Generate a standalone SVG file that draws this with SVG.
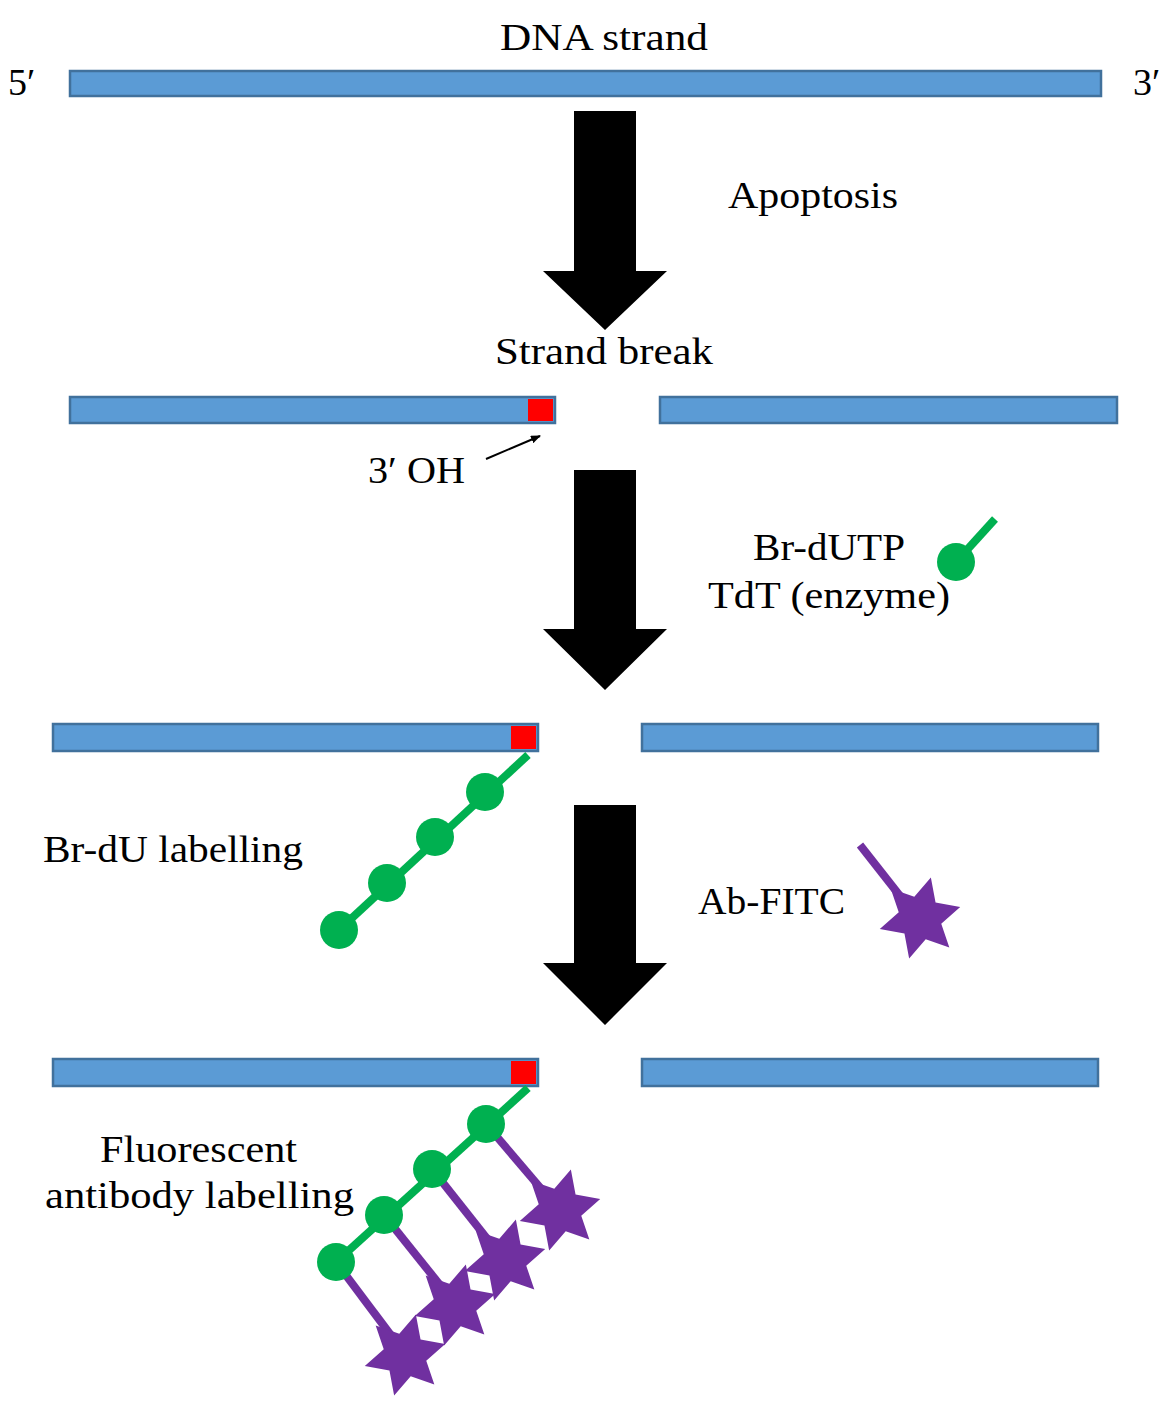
<svg xmlns="http://www.w3.org/2000/svg" xmlns:xlink="http://www.w3.org/1999/xlink" width="1171" height="1411" viewBox="0 0 1171 1411">
<style>
.bar{fill:#5b9bd5;stroke:#41719c;stroke-width:2.5}
.red{fill:#ff0000}
.t{font-family:"Liberation Serif",serif;font-size:38px;fill:#000}
.g{stroke:#00b050;stroke-width:8;fill:none}
.gc{fill:#00b050}
.p{stroke:#7030a0;stroke-width:8;fill:none}
.big{fill:#000}
</style>
<defs>
<path id="star" d="M0,-42 L11,-19 L36,-21 L22,0 L36,21 L11,19 L0,42 L-11,19 L-36,21 L-22,0 L-36,-21 L-11,-19 Z" fill="#7030a0"/>
<marker id="ah" markerWidth="10" markerHeight="8" refX="9" refY="4" orient="auto" markerUnits="userSpaceOnUse"><path d="M0,0 L10,4 L0,8 Z" fill="#000"/></marker>
</defs>
<g id="texts">
<text class="t" x="500" y="50" textLength="208" lengthAdjust="spacingAndGlyphs">DNA strand</text>
<text class="t" x="8" y="95">5′</text>
<text class="t" x="1133" y="95">3′</text>
<text class="t" x="728" y="208" textLength="170" lengthAdjust="spacingAndGlyphs">Apoptosis</text>
<text class="t" x="495" y="364" textLength="218" lengthAdjust="spacingAndGlyphs">Strand break</text>
<text class="t" x="368" y="483" textLength="97" lengthAdjust="spacingAndGlyphs">3′ OH</text>
<text class="t" x="753" y="560" textLength="152" lengthAdjust="spacingAndGlyphs">Br-dUTP</text>
<text class="t" x="708" y="608" textLength="242" lengthAdjust="spacingAndGlyphs">TdT (enzyme)</text>
<text class="t" x="43" y="862" textLength="260" lengthAdjust="spacingAndGlyphs">Br-dU labelling</text>
<text class="t" x="698" y="914" textLength="147" lengthAdjust="spacingAndGlyphs">Ab-FITC</text>
<text class="t" x="100" y="1162" textLength="197" lengthAdjust="spacingAndGlyphs">Fluorescent</text>
<text class="t" x="45" y="1208" textLength="309" lengthAdjust="spacingAndGlyphs">antibody labelling</text>
</g>
<g id="strand1"><rect class="bar" x="70" y="71" width="1031" height="25"/></g>
<g id="strand2">
<rect class="bar" x="70" y="397" width="485" height="26"/><rect class="red" x="528" y="399" width="25" height="22"/>
<rect class="bar" x="660" y="397" width="457" height="26"/>
</g>
<g id="strand3">
<rect class="bar" x="53" y="724" width="485" height="27"/><rect class="red" x="511" y="726" width="25" height="23"/>
<rect class="bar" x="642" y="724" width="456" height="27"/>
</g>
<g id="strand4">
<rect class="bar" x="53" y="1059" width="485" height="27"/><rect class="red" x="511" y="1061" width="25" height="23"/>
<rect class="bar" x="642" y="1059" width="456" height="27"/>
</g>
<g id="connectors">
<polygon class="big" points="574,111 636,111 636,271 667,271 605,330 543,271 574,271"/>
<polygon class="big" points="574,470 636,470 636,629 667,629 605,690 543,629 574,629"/>
<polygon class="big" points="574,805 636,805 636,963 667,963 605,1025 543,963 574,963"/>
<line x1="486" y1="459" x2="540" y2="436" stroke="#000" stroke-width="2" marker-end="url(#ah)"/>
</g>
<g id="brdutp">
<line class="g" x1="956" y1="562" x2="995" y2="519"/><circle class="gc" cx="956" cy="562" r="19"/>
</g>
<g id="abfitc">
<line class="p" x1="860" y1="845" x2="915" y2="915"/><use xlink:href="#star" transform="translate(920,918) rotate(15)"/>
</g>
<g id="labelling">
<line class="g" x1="528" y1="755" x2="339" y2="930"/>
<circle class="gc" cx="485" cy="792" r="19"/><circle class="gc" cx="435" cy="837" r="19"/>
<circle class="gc" cx="387" cy="883" r="19"/><circle class="gc" cx="339" cy="930" r="19"/>
</g>
<g id="fluorescent">
<line class="p" x1="486" y1="1124" x2="555" y2="1205"/>
<line class="p" x1="432" y1="1169" x2="500" y2="1255"/>
<line class="p" x1="384" y1="1215" x2="452" y2="1300"/>
<line class="p" x1="336" y1="1262" x2="402" y2="1350"/>
<use xlink:href="#star" transform="translate(560,1210) rotate(15)"/>
<use xlink:href="#star" transform="translate(505,1260) rotate(15)"/>
<use xlink:href="#star" transform="translate(455,1305) rotate(15)"/>
<use xlink:href="#star" transform="translate(405,1355) rotate(15)"/>
<line class="g" x1="528" y1="1088" x2="336" y2="1262"/>
<circle class="gc" cx="486" cy="1124" r="19"/><circle class="gc" cx="432" cy="1169" r="19"/>
<circle class="gc" cx="384" cy="1215" r="19"/><circle class="gc" cx="336" cy="1262" r="19"/>
</g>
</svg>
